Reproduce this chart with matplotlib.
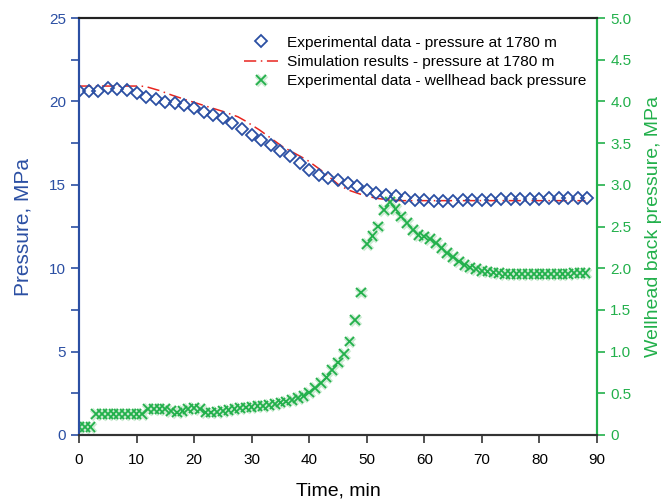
import matplotlib.pyplot as plt
import matplotlib.patheffects as pe
from matplotlib.lines import Line2D

plt.rcParams['font.family'] = ['Liberation Sans', 'DejaVu Sans']

# experimental bottom-hole pressure at 1780 m (every 100 s)
t_exp = [0, 1.67, 3.33, 5.0, 6.67, 8.33, 10.0, 11.67, 13.33, 15.0,
         16.67, 18.33, 20.0, 21.67, 23.33, 25.0, 26.67, 28.33, 30.0, 31.67,
         33.33, 35.0, 36.67, 38.33, 40.0, 41.67, 43.33, 45.0, 46.67, 48.33,
         50.0, 51.67, 53.33, 55.0, 56.67, 58.33, 60.0, 61.67, 63.33, 65.0,
         66.67, 68.33, 70.0, 71.67, 73.33, 75.0, 76.67, 78.33, 80.0, 81.67,
         83.33, 85.0, 86.67, 88.33]
p_exp = [20.6, 20.6, 20.6, 20.78, 20.74, 20.68, 20.48, 20.28, 20.14, 19.98,
         19.88, 19.78, 19.58, 19.38, 19.18, 18.99, 18.69, 18.35, 18.0, 17.7,
         17.4, 17.05, 16.73, 16.3, 15.9, 15.6, 15.4, 15.3, 15.13, 14.9,
         14.7, 14.5, 14.4, 14.3, 14.2, 14.1, 14.1, 14.05, 14.05, 14.05,
         14.07, 14.1, 14.1, 14.1, 14.12, 14.12, 14.15, 14.15, 14.15, 14.18,
         14.18, 14.2, 14.2, 14.2]

# simulation results
t_sim = [0, 5, 10, 11.5, 14, 16.1, 19, 22.4, 25, 27.6, 28.8, 31.4, 35.4,
         39.6, 42.4, 45.3, 47.1, 49.3, 51.7, 54, 56, 88]
p_sim = [20.92, 20.92, 20.92, 20.9, 20.65, 20.38, 20.05, 19.68, 19.4, 19.08,
         18.85, 18.28, 17.28, 16.49, 15.79, 14.95, 14.65, 14.39, 14.19, 14.09,
         14.05, 14.05]

# wellhead back pressure (every minute)
t_wh = list(range(0, 89))
p_wh = [0.10, 0.10, 0.10, 0.25, 0.25, 0.25, 0.25, 0.25, 0.25, 0.25,
        0.25, 0.25, 0.31, 0.31, 0.31, 0.31, 0.29, 0.27, 0.29, 0.31,
        0.32, 0.31, 0.27, 0.27, 0.28, 0.29, 0.30, 0.31, 0.32, 0.33,
        0.34, 0.35, 0.35, 0.36, 0.37, 0.39, 0.40, 0.42, 0.44, 0.47,
        0.51, 0.56, 0.62, 0.69, 0.78, 0.87, 0.97, 1.12, 1.38, 1.71,
        2.29, 2.39, 2.50, 2.70, 2.79, 2.71, 2.62, 2.54, 2.46, 2.40,
        2.38, 2.35, 2.30, 2.24, 2.18, 2.13, 2.08, 2.04, 2.01, 1.99,
        1.97, 1.96, 1.95, 1.94, 1.93, 1.93, 1.93, 1.93, 1.93, 1.93,
        1.93, 1.93, 1.93, 1.93, 1.93, 1.93, 1.94, 1.94, 1.94]

blue = '#2b4fa3'
red = '#e8251f'
green = '#22b04b'

fig = plt.figure(figsize=(6.67, 5.03), dpi=100)
ax = fig.add_axes([0.1184, 0.1352, 0.7766, 0.8290])
ax2 = ax.twinx()

halo = [pe.Stroke(linewidth=3.5, foreground='#cdebd3'), pe.Normal()]
ax2.plot(t_wh, p_wh, linestyle='none', marker='x', ms=7, mew=1.3,
         color=green, path_effects=halo, zorder=1)

ax.plot(t_sim, p_sim, color=red, lw=1.1, dashes=(8, 3, 1, 3), zorder=3)
ax.plot(t_exp, p_exp, linestyle='none', marker='D', ms=5.8, mew=1.3,
        mfc='none', mec=blue, zorder=4)
ax.set_zorder(ax2.get_zorder() + 1)
ax.patch.set_visible(False)

ax.set_xlim(0, 90)
ax.set_ylim(0, 25)
ax2.set_ylim(0, 5)
ax.set_xticks(range(0, 91, 10))
ax.set_yticks(range(0, 26, 5))
ax.set_yticks([2.5, 7.5, 12.5, 17.5, 22.5], minor=True)
ax2.set_yticks([0, 0.5, 1, 1.5, 2, 2.5, 3, 3.5, 4, 4.5, 5])
ax2.set_yticklabels(['0', '0.5', '1.0', '1.5', '2.0', '2.5', '3.0', '3.5',
                     '4.0', '4.5', '5.0'])

ax.tick_params(axis='x', direction='out', length=6, width=1.2, labelsize=11,
               color='#333333', pad=7)
ax.tick_params(axis='y', which='both', direction='out', length=6, width=1.2,
               color=blue, labelcolor=blue, labelsize=11)
ax2.tick_params(axis='y', direction='out', length=6, width=1.2, color=green,
                labelcolor=green, labelsize=11)

for a in (ax, ax2):
    a.spines['left'].set_color(blue)
    a.spines['right'].set_color(green)
    a.spines['top'].set_color('#222222')
    a.spines['bottom'].set_color('#333333')
    for s in a.spines.values():
        s.set_linewidth(1.5)

ax.set_xlabel('Time, min', fontsize=14, labelpad=11)
ax.set_ylabel('Pressure, MPa', fontsize=15, color=blue, labelpad=12)
ax2.set_ylabel('Wellhead back pressure, MPa', fontsize=14, color=green,
               labelpad=10)

handles = [
    Line2D([], [], linestyle='none', marker='D', ms=5.8, mew=1.3, mfc='none',
           mec=blue),
    Line2D([], [], color=red, lw=1.1, dashes=(8, 3, 1, 3)),
    Line2D([], [], linestyle='none', marker='x', ms=7, mew=1.3, color=green,
           path_effects=halo),
]
labels = ['Experimental data - pressure at 1780 m',
          'Simulation results - pressure at 1780 m',
          'Experimental data - wellhead back pressure']
fig.legend(handles, labels, loc='upper left', bbox_to_anchor=(0.345, 0.957),
           frameon=False, fontsize=11.1, handlelength=2.2, labelspacing=0.35,
           handletextpad=0.6)

fig.savefig('out.png', dpi=100)
